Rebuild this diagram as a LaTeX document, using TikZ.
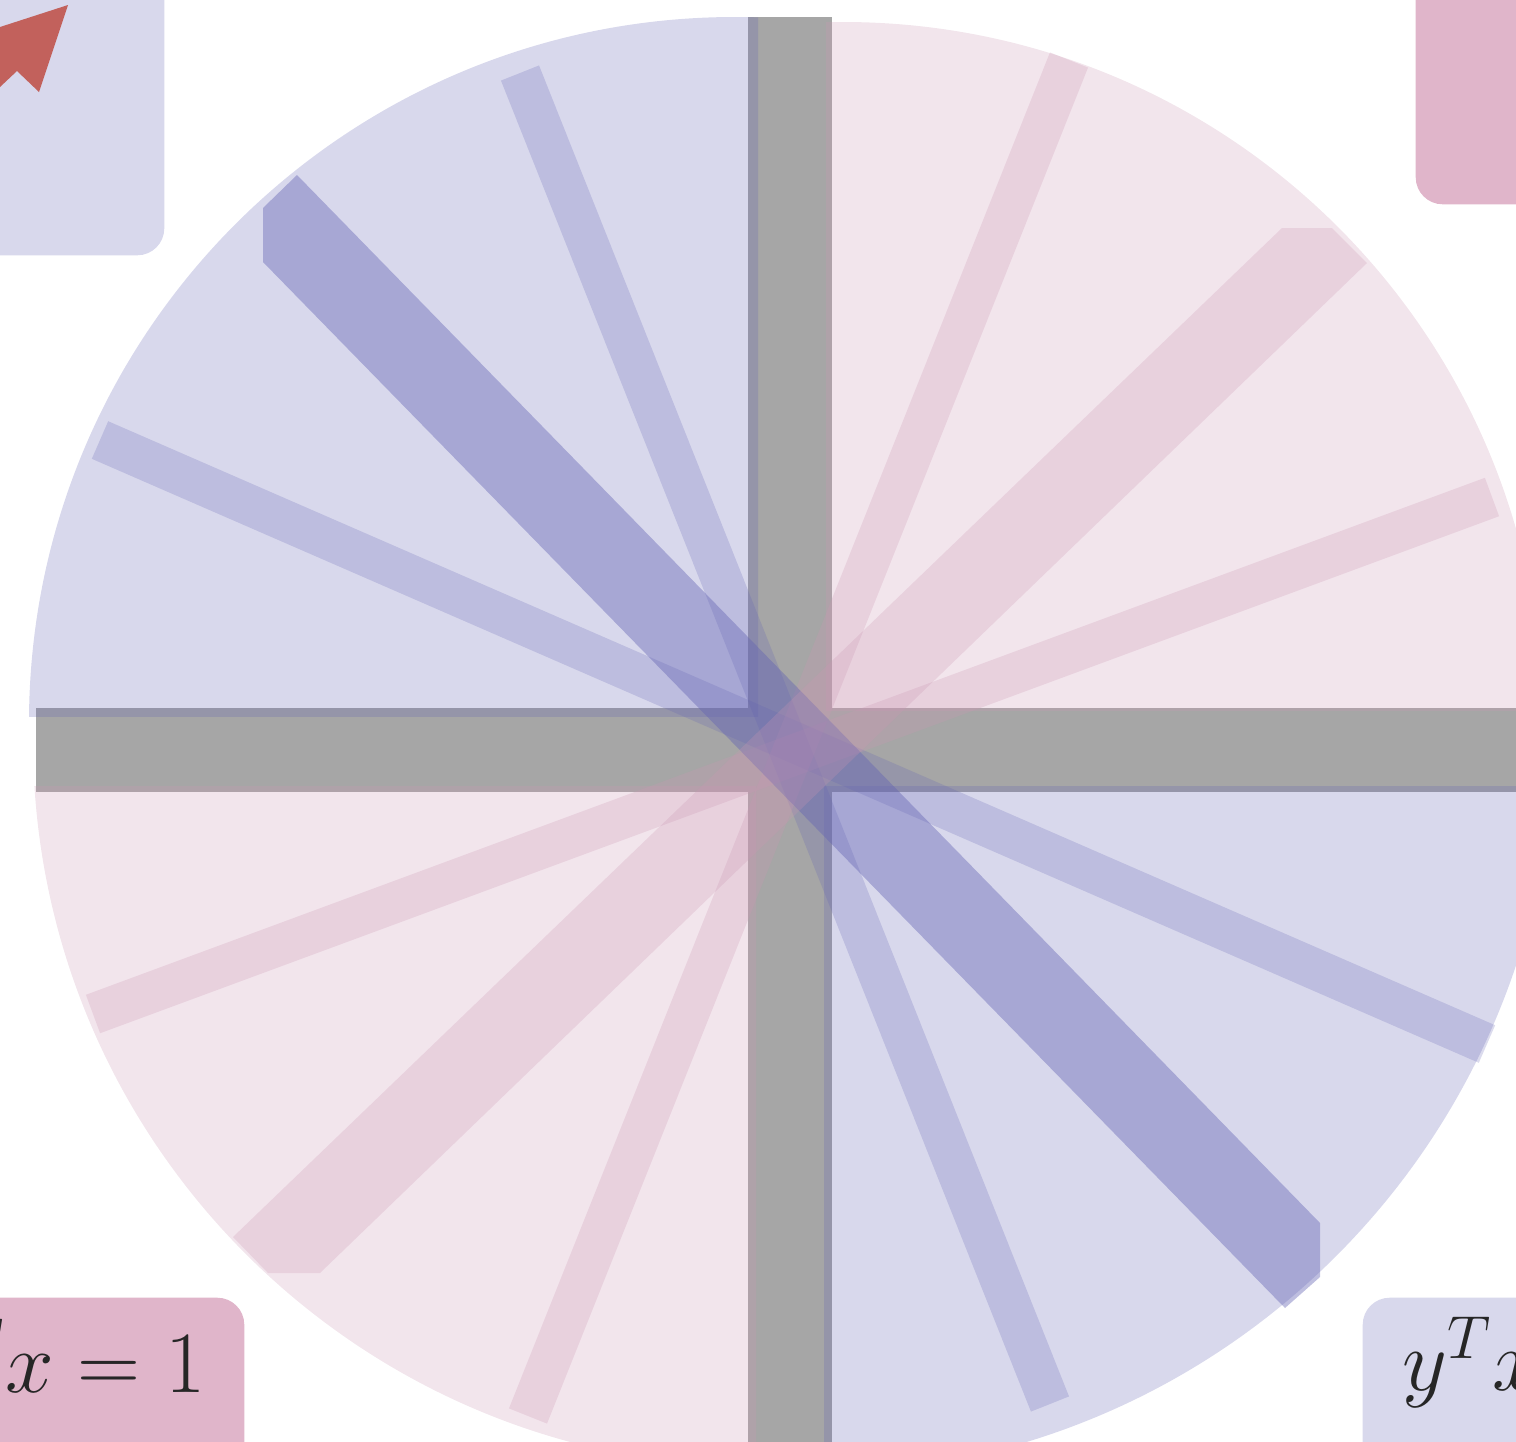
\documentclass[tikz,border=0pt]{standalone}
\usepackage{amsmath}
\usetikzlibrary{calc,positioning}

\definecolor{quadblue}{HTML}{6363B3}
\definecolor{quadpink}{HTML}{CB97B3}
\definecolor{axisgray}{HTML}{A6A6A6}
\definecolor{boxblue}{HTML}{D8D8EC}
\definecolor{boxpink}{HTML}{E0B5CA}
\definecolor{arrowred}{HTML}{C2615C}

\begin{document}
\begin{tikzpicture}[
  x=0.1mm, y=-0.1mm,
  font=\fontsize{23}{28}\selectfont,
  box/.style={rounded corners=2.7mm,inner sep=0pt,minimum width=40mm,minimum height=40mm},
  bluebox/.style={box,fill=boxblue},
  pinkbox/.style={box,fill=boxpink},
  axisbar/.style={fill=axisgray},
  bluesec/.style={fill=quadblue,fill opacity=0.25},
  pinksec/.style={fill=quadpink,fill opacity=0.25},
  blueray/.style={draw=quadblue,line width=4.1mm,draw opacity=0.23},
  pinkray/.style={draw=quadpink,line width=4.1mm,draw opacity=0.26},
  eqn/.style={inner sep=0pt,text=black!85},
]
\useasboundingbox (0,0) rectangle (1516,1441);
\clip (0,0) rectangle (1516,1441);

% ---- axes -----------------------------------------------------------------
\fill[axisbar] (748,17) rectangle (832,1483);
\fill[axisbar] (36,708) rectangle (1544,792);

% ---- quadrants --------------------------------------------------------------
\begin{scope}
  \clip (0,0) rectangle (758,716);
  \fill[bluesec] (735,723) circle (706);
\end{scope}
\begin{scope}
  \clip (826,0) rectangle (1516,710);
  \fill[pinksec] (843,722) circle (700);
\end{scope}
\begin{scope}
  \clip (0,786) rectangle (756,1441);
  \fill[pinksec] (760,740) circle (727);
\end{scope}
\begin{scope}
  \clip (824,786) rectangle (1516,1441);
  \fill[bluesec] (810,730) circle (744);
\end{scope}

% ---- rays -----------------------------------------------------------------
\coordinate (a1) at (520,73);    \coordinate (a2) at (1050,1404);
\coordinate (b1) at (100,440);   \coordinate (b2) at (1487,1044);
\coordinate (d1) at (1069,60);   \coordinate (d2) at (528,1416);
\coordinate (e1) at (1492,497);  \coordinate (e2) at (93,1014);

\draw[blueray] (a1) -- (a2);
\draw[blueray] (b1) -- (b2);
\draw[pinkray] (d1) -- (d2);
\draw[pinkray] (e1) -- (e2);

% thick diagonals
\fill[quadblue,fill opacity=0.42] (297,175) -- (1320,1223) -- (1320,1277)
  -- (1285,1308) -- (263,262) -- (263,208) -- cycle;
\fill[quadpink,fill opacity=0.26] (1282,228) -- (1332,228) -- (1367,263)
  -- (320,1273) -- (268,1273) -- (233,1237) -- cycle;

% ---- corner boxes -----------------------------------------------------------
\node[bluebox,anchor=south east] (tl) at (165,256) {};
\node[pinkbox,anchor=south west] (tr) at (1415,205) {};
\node[pinkbox,anchor=north east] (bl) at (245,1297) {};
\node[bluebox,anchor=north west] (br) at (1362,1297) {};

\fill[arrowred] (68,5) -- (39,92) -- (17,71) -- (0,87) -- (0,27) -- cycle;

\node[eqn,anchor=base east] (bleq) at ($(bl.north east)+(-39,95)$) {$y^T x = 1$};
\node[eqn,anchor=base west] (breq) at ($(br.north west)+(40,93)$) {$y^T x$};

\end{tikzpicture}
\end{document}
